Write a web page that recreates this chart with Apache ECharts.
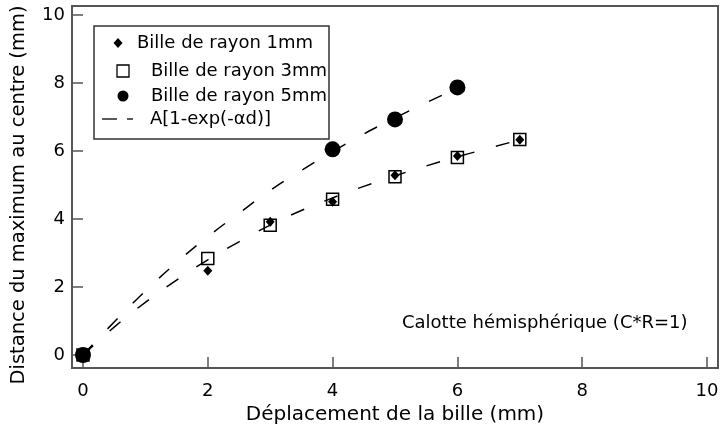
<!DOCTYPE html>
<html>
<head>
<meta charset="utf-8">
<script src="https://cdn.jsdelivr.net/npm/echarts@6/dist/echarts.min.js"></script>
<style>
  html, body { margin: 0; padding: 0; background: #fff; }
  #chart { width: 720px; height: 430px; }
</style>
</head>
<body>
<div id="chart"></div>
<script>
// Displacement of the ball (mm) and distance of the maximum from the centre (mm)
const xBille1 = [0, 2, 3, 4, 5, 6, 7];
const yBille1 = [0, 2.48, 3.92, 4.51, 5.29, 5.85, 6.33];

const xBille3 = [0, 2, 3, 4, 5, 6, 7];
const yBille3 = [0, 2.84, 3.82, 4.58, 5.24, 5.81, 6.34];

const xBille5 = [0, 4, 5, 6];
const yBille5 = [0, 6.05, 6.93, 7.87];

// Fitted curves A[1-exp(-αd)]
const xFit5 = [0, 0.5, 1, 1.5, 2, 2.5, 3, 3.5, 4, 4.5, 5, 5.5, 6];
const yFit5 = [0, 0.97, 1.88, 2.72, 3.48, 4.17, 4.84, 5.43, 5.98, 6.5, 6.97, 7.42, 7.85];

const xFit13 = [0, 0.5, 1, 1.5, 2, 2.5, 3, 3.5, 4, 4.5, 5, 5.5, 6, 6.5, 7];
const yFit13 = [0, 0.82, 1.55, 2.2, 2.8, 3.33, 3.82, 4.25, 4.62, 4.96, 5.27, 5.56, 5.83, 6.08, 6.33];

const xTicks = [0, 2, 4, 6, 8, 10];
const yTicks = [0, 2, 4, 6, 8, 10];

const legendNames = ['Bille de rayon 1mm', 'Bille de rayon 3mm', 'Bille de rayon 5mm', 'A[1-exp(-αd)]'];
const xTitle = 'Déplacement de la bille (mm)';
const yTitle = 'Distance du maximum au centre (mm)';
const note = 'Calotte hémisphérique (C*R=1)';

const zip = (xs, ys) => xs.map((x, i) => [x, ys[i]]);

const FONT = 'DejaVu Sans';
const INK = '#000';
const FRAME = '#555';
const DASH = [14, 22];

const chart = echarts.init(document.getElementById('chart'), null, { renderer: 'canvas' });

chart.setOption({
  animation: false,
  backgroundColor: '#fff',
  grid: {
    left: 72, right: 2, top: 6, bottom: 62,
    outerBoundsMode: 'none', containLabel: false,
    show: true, borderColor: FRAME, borderWidth: 2, backgroundColor: 'transparent'
  },
  xAxis: {
    type: 'value',
    min: -0.176, max: 10.176,
    axisLine: { show: false, onZero: false },
    splitLine: { show: false },
    axisTick: { show: true, inside: true, length: 11, customValues: xTicks,
                lineStyle: { color: FRAME, width: 1.5 } },
    axisLabel: { customValues: xTicks, margin: 14, color: INK,
                 fontFamily: FONT, fontSize: 18 },
    name: xTitle,
    nameLocation: 'middle',
    nameGap: 32,
    nameTextStyle: { color: INK, fontFamily: FONT, fontSize: 20 }
  },
  yAxis: {
    type: 'value',
    min: -0.382, max: 10.265,
    axisLine: { show: false, onZero: false },
    splitLine: { show: false },
    axisTick: { show: true, inside: true, length: 11, customValues: yTicks,
                lineStyle: { color: FRAME, width: 1.5 } },
    axisLabel: { customValues: yTicks, margin: 7, color: INK,
                 fontFamily: FONT, fontSize: 18 },
    name: yTitle,
    nameLocation: 'middle',
    nameGap: 43,
    nameTextStyle: { color: INK, fontFamily: FONT, fontSize: 19.5, padding: [0, 16, 0, 0] }
  },
  series: [
    {
      name: legendNames[3], type: 'line', smooth: true, symbol: 'none',
      data: zip(xFit5, yFit5),
      lineStyle: { color: INK, width: 1.5, type: DASH }
    },
    {
      name: legendNames[3] + ' ', type: 'line', smooth: true, symbol: 'none',
      data: zip(xFit13, yFit13),
      lineStyle: { color: INK, width: 1.5, type: DASH }
    },
    {
      name: legendNames[1], type: 'scatter', symbol: 'rect', symbolSize: 12, clip: false,
      data: zip(xBille3, yBille3),
      itemStyle: { color: '#fff', borderColor: INK, borderWidth: 1.5, opacity: 1 }
    },
    {
      name: legendNames[0], type: 'scatter', symbol: 'diamond', symbolSize: [9, 10], clip: false,
      data: zip(xBille1, yBille1),
      itemStyle: { color: INK, opacity: 1 }
    },
    {
      name: legendNames[2], type: 'scatter', symbol: 'circle', symbolSize: 16, clip: false,
      data: zip(xBille5, yBille5),
      itemStyle: { color: INK, opacity: 1 }
    }
  ],
  graphic: [
    // legend box
    { type: 'rect', shape: { x: 94, y: 26, width: 235, height: 113 },
      style: { fill: '#fff', stroke: '#333', lineWidth: 1.5 }, z: 10 },
    { type: 'polygon', shape: { points: [[118, 38], [122.5, 43], [118, 48], [113.5, 43]] },
      style: { fill: INK }, z: 11 },
    { type: 'text', x: 137, y: 43, z: 11,
      style: { text: legendNames[0], fill: INK, font: '18px ' + FONT, verticalAlign: 'middle' } },
    { type: 'rect', shape: { x: 117, y: 65, width: 12, height: 12 },
      style: { fill: '#fff', stroke: INK, lineWidth: 1.3 }, z: 11 },
    { type: 'text', x: 151, y: 71, z: 11,
      style: { text: legendNames[1], fill: INK, font: '18px ' + FONT, verticalAlign: 'middle' } },
    { type: 'circle', shape: { cx: 123, cy: 96, r: 5.5 },
      style: { fill: INK }, z: 11 },
    { type: 'text', x: 151, y: 96, z: 11,
      style: { text: legendNames[2], fill: INK, font: '18px ' + FONT, verticalAlign: 'middle' } },
    { type: 'line', shape: { x1: 102, y1: 119, x2: 117, y2: 119 },
      style: { stroke: INK, lineWidth: 1.3 }, z: 11 },
    { type: 'line', shape: { x1: 127, y1: 119, x2: 133, y2: 119 },
      style: { stroke: INK, lineWidth: 1.3 }, z: 11 },
    { type: 'text', x: 150, y: 119, z: 11,
      style: { text: legendNames[3], fill: INK, font: '18px ' + FONT, verticalAlign: 'middle' } },
    // annotation
    { type: 'text', x: 402, y: 323, z: 11,
      style: { text: note, fill: INK, font: '18px ' + FONT, verticalAlign: 'middle' } }
  ]
});
</script>
</body>
</html>
